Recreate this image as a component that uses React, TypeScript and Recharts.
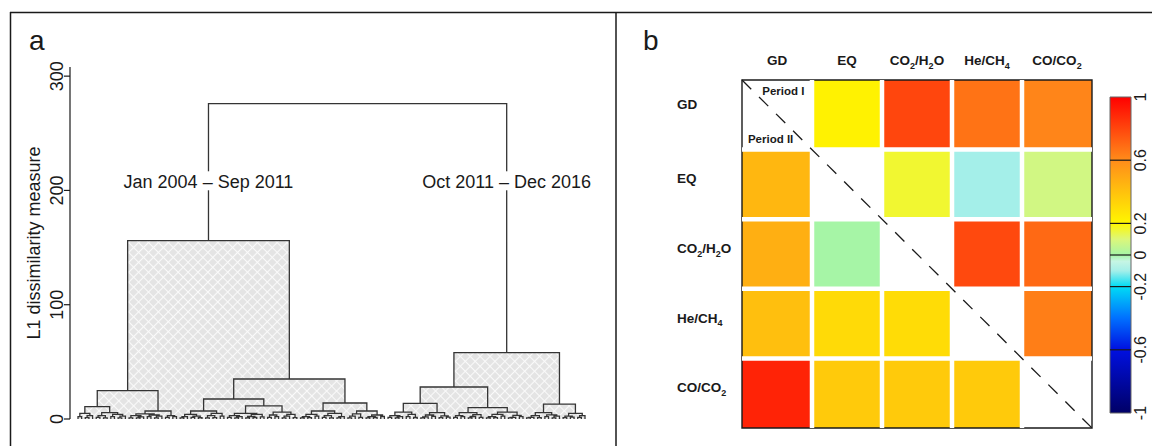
import React from 'react'
import {
  LineChart, Line, ComposedChart, Scatter, XAxis, YAxis,
  ReferenceArea, ReferenceLine, ReferenceDot,
} from 'recharts'

const FONT = '"Liberation Sans", Arial, Helvetica, sans-serif'
const C = { ink: '#1a1a1a', tree: '#343434', hatchBg: '#e4e4e4', white: '#ffffff' }

// ---------- panel a: hierarchical clustering of monthly records ----------
// node = [merge height, left, right], leaf = 0
type Node = 0 | [number, Node, Node]

const dendroTicks = [0, 100, 200, 300]
const periodLabels = ['Jan 2004 – Sep 2011', 'Oct 2011 – Dec 2016']
const periodLabelHeight = 208

const branchA: Node = [24.8,
  [10.8,
    [5, [2, 0, 0], [3, [1.2, 0, 0], 0]],
    [5.5, [3, [1.5, 0, 0], [1, 0, 0]], [4, [2, 0, 0], [2.5, [1, 0, 0], 0]]]],
  [7,
    [4.5, [3, [1, 0, 0], [1.8, [1, 0, 0], 0]], [3.5, [2, 0, 0], [2.5, [1, 0, 0], 0]]],
    [3, [1.5, 0, 0], [2, 0, 0]]]]

const branchB: Node = [35,
  [17.5,
    [7, [4, [2, [1, 0, 0], 0], [2.6, [1.5, 0, 0], [1.1, 0, 0]]], [5, [3, [1, 0, 0], [1.2, 0, 0]], [2.5, 0, 0]]],
    [11.5,
      [5, [3, [1.5, 0, 0], [2, [1, 0, 0], 0]], [4, [2.2, [1, 0, 0], [1.3, 0, 0]], [1.8, 0, 0]]],
      [6, [3.5, [1.5, 0, 0], [2, 0, 0]], [4, [2.5, [1, 0, 0], 0], [1.2, 0, 0]]]]],
  [14,
    [7, [4, [2, [1, 0, 0], [1.2, 0, 0]], [2.5, 0, 0]], [5, [3, [1.4, 0, 0], [1, 0, 0]], [2, [1, 0, 0], 0]]],
    [7, [4.5, [2.5, [1, 0, 0], 0], [1.5, 0, 0]], [3.5, [2, [1, 0, 0], [1.3, 0, 0]], [2.2, 0, 0]]]]]

const branchC: Node = [28,
  [13.7,
    [6, [3, [1.5, 0, 0], [2, [1, 0, 0], 0]], [4, [2, 0, 0], [1.3, 0, 0]]],
    [5.5, [3.5, [1.8, [1, 0, 0], 0], [2.3, 0, 0]], [2.8, [1.2, 0, 0], [1.6, 0, 0]]]],
  [10,
    [5.5, [3, [1.4, 0, 0], [2, 0, 0]], [3.8, [2.2, [1, 0, 0], 0], [1.5, 0, 0]]],
    [6, [4, [2, [1, 0, 0], [1.2, 0, 0]], [2.6, 0, 0]], [3.2, [1.5, [1, 0, 0], 0], [2, 0, 0]]]]]

const branchD: Node = [13,
  [5.5, [3, [1.5, [1, 0, 0], 0], [1.2, 0, 0]], [3.6, [2, 0, 0], [2.5, [1, 0, 0], 0]]],
  [5, [2.5, [1.2, 0, 0], [1.6, 0, 0]], [3, [1.4, 0, 0], 0]]]

const tree: Node = [276, [156, branchA, branchB], [58, branchC, branchD]]

// ---------- panel b: correlation matrix ----------
const vars = ['GD', 'EQ', 'CO2/H2O', 'He/CH4', 'CO/CO2']
// Period I -> upper triangle (row i, columns i+1..)
const periodI = [[0.22, 0.8, 0.67, 0.62], [0.16, -0.1, 0.08], [0.79, 0.7], [0.64]]
// Period II -> lower triangle (row i+1, columns 0..i)
const periodII = [[0.44], [0.47, 0.0], [0.41, 0.31, 0.3], [0.9, 0.37, 0.37, 0.37]]

const cbTicks = [-1, -0.6, -0.2, 0, 0.2, 0.6, 1]
const paletteStops = [-1, -0.6, -0.4, -0.2, -0.1, -0.04, 0, 0.1, 0.2, 0.6, 1]
const paletteColors = ['#000066', '#0010e0', '#0070ff', '#00dcf5', '#a4efe9', '#c6f5e4',
  '#a6f5a6', '#dcf77a', '#fff700', '#ff8c1a', '#ff0000']

function corrColor(v: number) {
  const rgb = (h: string) => { const n = parseInt(h.slice(1), 16); return [n >> 16 & 255, n >> 8 & 255, n & 255] }
  let i = 0
  while (i < paletteStops.length - 2 && v > paletteStops[i + 1]) i++
  const t = (v - paletteStops[i]) / (paletteStops[i + 1] - paletteStops[i])
  const a = rgb(paletteColors[i]), b = rgb(paletteColors[i + 1])
  const c = a.map((x, k) => Math.round(x + (b[k] - x) * Math.max(0, Math.min(1, t))))
  return `rgb(${c[0]},${c[1]},${c[2]})`
}

function layoutTree(root: Node) {
  let leaf = 0
  const segs: { x: number; y: number | null }[] = []
  const boxes: { x1: number; x2: number; h: number }[] = []
  const tops: number[] = []
  const walk = (n: Node, depth: number): { x: number; h: number } => {
    if (n === 0) return { x: leaf++, h: 0 }
    const [h, a, b] = n
    const l = walk(a, depth + 1)
    const r = walk(b, depth + 1)
    segs.push({ x: l.x, y: l.h }, { x: l.x, y: h }, { x: r.x, y: h }, { x: r.x, y: r.h }, { x: r.x, y: null })
    if (depth > 0) boxes.push({ x1: l.x, x2: r.x, h })
    if (depth === 1) tops.push((l.x + r.x) / 2)
    return { x: (l.x + r.x) / 2, h }
  }
  walk(root, 0)
  return { segs, boxes, tops, n: leaf }
}

const dendro = layoutTree(tree)
const pxPerLeaf = 507 / (dendro.n - 1)

const cells: { row: number; col: number; v: number; cx: number; cy: number }[] = []
periodI.forEach((r, i) => r.forEach((v, k) => cells.push({ row: i, col: i + 1 + k, v, cx: i + 1.5 + k, cy: i + 0.5 })))
periodII.forEach((r, i) => r.forEach((v, k) => cells.push({ row: i + 1, col: k, v, cx: k + 0.5, cy: i + 1.5 })))

const keyData = cbTicks.map(t => ({ k: 0.5, v: t }))

function VarLabel({ name, x, y, anchor }: { name: string; x: number; y: number; anchor: 'start' | 'middle' }) {
  const parts = name.split(/(\d)/).filter(s => s !== '')
  let sub = false
  return (
    <text x={x} y={y} textAnchor={anchor} fontFamily={FONT} fontWeight="bold" fontSize={13.5} fill={C.ink}>
      {parts.map((p, i) => {
        const isDigit = /\d/.test(p)
        const dy = isDigit ? 3.5 : (sub ? -3.5 : 0)
        sub = isDigit
        return <tspan key={i} dy={dy} fontSize={isDigit ? 9 : 13.5}>{p}</tspan>
      })}
    </text>
  )
}

function PeriodTag(props: any) {
  const { cx, cy, text } = props
  return (
    <g>
      <rect x={cx - 91} y={cy - 10} width={182} height={19} fill={C.white} />
      <text x={cx} y={cy + 6.5} textAnchor="middle" fontFamily={FONT} fontSize={18} fill={C.ink}>{text}</text>
    </g>
  )
}

const noShape = () => <g />

export default function App() {
  // gradient runs top (1) to bottom (-1), so stops must go from high to low value
  const gradStops = paletteStops.map((s, i) => ({ s, c: paletteColors[i] })).reverse()
  return (
    <div style={{ position: 'absolute', left: 0, top: 0, width: 1152, height: 446, overflow: 'hidden', background: '#fff' }}>
      <svg width={1152} height={446} style={{ position: 'absolute', left: 0, top: 0 }}>
        <line x1={10} y1={12.5} x2={1152} y2={12.5} stroke={C.ink} strokeWidth={1.5} />
        <line x1={10.5} y1={12} x2={10.5} y2={446} stroke={C.ink} strokeWidth={1.5} />
        <line x1={616} y1={12} x2={616} y2={446} stroke={C.ink} strokeWidth={1.5} />
        <text x={29} y={50} fontFamily={FONT} fontSize={28} fill={C.ink}>a</text>
        <text x={643} y={50} fontFamily={FONT} fontSize={28} fill={C.ink}>b</text>
      </svg>

      {/* a: dendrogram */}
      <div style={{ position: 'absolute', left: 0, top: 0 }}>
        <LineChart width={616} height={446} data={dendro.segs} margin={{ top: 67, right: 16, bottom: 27, left: 0 }}>
          <defs>
            <pattern id="hatch" width="7" height="7" patternUnits="userSpaceOnUse" patternTransform="rotate(45)">
              <rect width="7" height="7" fill={C.hatchBg} />
              <path d="M0 3.5 H7 M3.5 0 V7" stroke="#fafafa" strokeWidth={1.1} />
            </pattern>
          </defs>
          <XAxis dataKey="x" type="number" hide
            domain={[-8 / pxPerLeaf, dendro.n - 1 + 15 / pxPerLeaf]} />
          <YAxis type="number" domain={[0, 308]} ticks={dendroTicks} width={70}
            tickSize={6} tickMargin={2}
            axisLine={{ stroke: C.ink, strokeWidth: 1.2 }} tickLine={{ stroke: C.ink, strokeWidth: 1.2 }}
            tick={(p: any) => (
              <text x={p.x + 1} y={p.y} transform={`rotate(-90 ${p.x + 1} ${p.y})`} textAnchor="middle"
                fontFamily={FONT} fontSize={18} fill={C.ink}>{p.payload.value}</text>
            )}
            label={{
              content: ({ viewBox }: any) => (
                <text x={viewBox.x + 40} y={viewBox.y + viewBox.height / 2}
                  transform={`rotate(-90 ${viewBox.x + 40} ${viewBox.y + viewBox.height / 2})`}
                  textAnchor="middle" fontFamily={FONT} fontSize={18} fill={C.ink}>L1 dissimilarity measure</text>
              ),
            }} />
          {dendro.boxes.map((b, i) => (
            <ReferenceArea key={i} x1={b.x1} x2={b.x2} y1={0} y2={b.h} fill="url(#hatch)" fillOpacity={1} stroke="none" />
          ))}
          <Line dataKey="y" type="linear" stroke={C.tree} strokeWidth={1.3} dot={false}
            connectNulls={false} isAnimationActive={false} />
          {dendro.tops.map((x, i) => (
            <ReferenceDot key={i} x={x} y={periodLabelHeight} r={0}
              shape={(p: any) => <PeriodTag cx={p.cx} cy={p.cy} text={periodLabels[i]} />} />
          ))}
        </LineChart>
      </div>

      {/* b: correlation matrix */}
      <div style={{ position: 'absolute', left: 616, top: 0 }}>
        <ComposedChart width={536} height={446} data={cells} margin={{ top: 50, right: 60, bottom: 18, left: 46 }}>
          <XAxis dataKey="cx" type="number" orientation="top" domain={[0, 5]} ticks={[0.5, 1.5, 2.5, 3.5, 4.5]} height={30}
            axisLine={false} tickLine={false} tickSize={0} tickMargin={0} allowDataOverflow
            tick={(p: any) => <VarLabel name={vars[Math.floor(p.payload.value)]} x={p.x} y={p.y - 15} anchor="middle" />} />
          <YAxis dataKey="cy" type="number" reversed domain={[0, 5]} ticks={[0.5, 1.5, 2.5, 3.5, 4.5]} width={80}
            axisLine={false} tickLine={false} tickSize={0} tickMargin={0} allowDataOverflow
            tick={(p: any) => <VarLabel name={vars[Math.floor(p.payload.value)]} x={p.x - 65}
              y={p.y - (p.payload.value < 1 ? 6 : 1)} anchor="start" />} />
          {cells.map((c, i) => (
            <ReferenceArea key={i} x1={c.col} x2={c.col + 1} y1={c.row} y2={c.row + 1}
              fill={corrColor(c.v)} fillOpacity={1} stroke="none" />
          ))}
          {[1, 2, 3, 4].map(k => <ReferenceLine key={'vx' + k} x={k} stroke={C.white} strokeWidth={4.5} />)}
          {[1, 2, 3, 4].map(k => <ReferenceLine key={'hy' + k} y={k} stroke={C.white} strokeWidth={4.5} />)}
          <ReferenceLine segment={[{ x: 0, y: 0 }, { x: 5, y: 5 }]} stroke={C.ink} strokeWidth={1.3} strokeDasharray="13 11" />
          <ReferenceArea x1={0} x2={5} y1={0} y2={5} fill="none" fillOpacity={0} stroke={C.ink} strokeWidth={1.4} />
          <Scatter dataKey="cy" shape={noShape} isAnimationActive={false} />
          <ReferenceDot x={0.29} y={0.16} r={0}
            shape={(p: any) => <text x={p.cx} y={p.cy + 4} fontFamily={FONT} fontWeight="bold" fontSize={11.5} fill={C.ink}>Period I</text>} />
          <ReferenceDot x={0.085} y={0.85} r={0}
            shape={(p: any) => <text x={p.cx} y={p.cy + 4} fontFamily={FONT} fontWeight="bold" fontSize={11.5} fill={C.ink}>Period II</text>} />
        </ComposedChart>
      </div>

      {/* colour key */}
      <div style={{ position: 'absolute', left: 1100, top: 0 }}>
        <ComposedChart width={52} height={446} data={keyData} margin={{ top: 97, right: 0, bottom: 33, left: 10 }}>
          <defs>
            <linearGradient id="cbar" x1="0" y1="0" x2="0" y2="1">
              {gradStops.map((g, i) => (
                <stop key={i} offset={`${((1 - g.s) / 2) * 100}%`} stopColor={g.c} />
              ))}
            </linearGradient>
          </defs>
          <XAxis dataKey="k" type="number" domain={[0, 1]} hide />
          <YAxis dataKey="v" type="number" orientation="right" domain={[-1, 1]} ticks={cbTicks} width={21}
            axisLine={false} tickLine={false} tickSize={0} tickMargin={0}
            tick={(p: any) => (
              <text x={p.x + 15} y={p.y} transform={`rotate(-90 ${p.x + 15} ${p.y})`} textAnchor="middle"
                fontFamily={FONT} fontSize={16} fill={C.ink}>{p.payload.value}</text>
            )} />
          <ReferenceArea x1={0} x2={1} y1={-1} y2={1} fill="url(#cbar)" fillOpacity={1} stroke="#666" strokeWidth={1} />
          {cbTicks.filter(t => Math.abs(t) < 1).map(t => (
            <ReferenceLine key={t} y={t} stroke={C.ink} strokeWidth={1.2} />
          ))}
          <Scatter dataKey="v" shape={noShape} isAnimationActive={false} />
        </ComposedChart>
      </div>
    </div>
  )
}
